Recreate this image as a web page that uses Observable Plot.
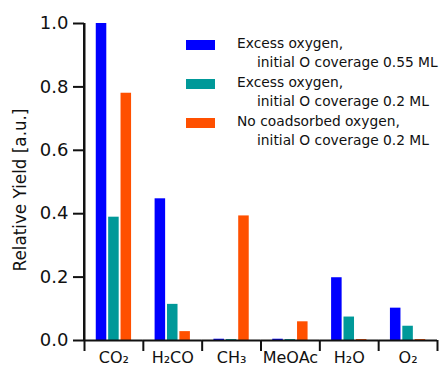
<!DOCTYPE html>
<html>
<head>
<meta charset="utf-8">
<script src="https://cdn.jsdelivr.net/npm/d3@7"></script>
<script src="https://cdn.jsdelivr.net/npm/@observablehq/plot@0.6"></script>
<style>
  html, body { margin: 0; padding: 0; background: #fff; }
  #wrap { position: relative; width: 439px; height: 366px; font-family: "DejaVu Sans", sans-serif; color: #111; }
  #ylabel { position: absolute; left: 20px; top: 190px; transform: translate(-50%, -50%) rotate(-90deg); white-space: nowrap; font-size: 16.8px; }
  .leg { position: absolute; left: 186px; width: 253px; font-size: 13.8px; line-height: 19px; }
  .sw { position: absolute; left: 0; width: 29px; height: 10px; }
  .l1 { position: absolute; left: 51px; white-space: nowrap; }
  .l2 { position: absolute; left: 71px; white-space: nowrap; }
</style>
</head>
<body>
<div id="wrap"><div id="ylabel">Relative Yield [a.u.]</div></div>
<script>
const categories = ["CO₂", "H₂CO", "CH₃", "MeOAc", "H₂O", "O₂"];
const seriesNames = [
  ["Excess oxygen,", "initial O coverage 0.55 ML"],
  ["Excess oxygen,", "initial O coverage 0.2 ML"],
  ["No coadsorbed oxygen,", "initial O coverage 0.2 ML"]
];
const excessO055 = [1.0, 0.447, 0.004, 0.004, 0.198, 0.102];
const excessO02 = [0.389, 0.114, 0.003, 0.003, 0.074, 0.045];
const noCoadsorbed = [0.78, 0.028, 0.393, 0.059, 0.003, 0.003];
const colors = ["#0000ff", "#009999", "#ff5000"];
const yTicks = [0, 0.2, 0.4, 0.6, 0.8, 1.0];

const seriesKeys = seriesNames.map(s => s.join(" "));
const seriesValues = [excessO055, excessO02, noCoadsorbed];
const data = [];
categories.forEach((c, i) => {
  seriesKeys.forEach((s, j) => data.push({cat: c, series: s, value: seriesValues[j][i]}));
});

const W = 439, H = 366, ML = 84, MR = 2, MT = 23, MB = 26;
const facetW = (W - ML - MR) / categories.length;

function build(extra) {
  return Plot.plot({
    width: W, height: H,
    marginLeft: ML, marginRight: MR, marginTop: MT, marginBottom: MB,
    style: {fontFamily: "DejaVu Sans, sans-serif", color: "#111", background: "transparent"},
    fx: {domain: categories, padding: 0, label: null, round: false},
    x: {domain: seriesKeys, axis: null, paddingInner: 0.15, paddingOuter: 0.95, round: false},
    y: {domain: [0, 1], label: null},
    color: {domain: seriesKeys, range: colors},
    marks: [
      Plot.barY(data, {fx: "cat", x: "series", y: "value", fill: "series"}),
      Plot.ruleY([0], {stroke: "#111", strokeWidth: 2}),
      Plot.gridFx({ticks: [categories[0]], dx: -facetW / 2, stroke: "#111", strokeOpacity: 1, strokeWidth: 2}),
      Plot.axisY({ticks: yTicks, tickFormat: d3.format(".1f"), tickSize: 11, tickPadding: 5, label: null, strokeWidth: 2, stroke: "#111", fontSize: 18}),
      Plot.axisFx({anchor: "bottom", tickSize: 0, tickPadding: 11, label: null, fontSize: 16}),
      Plot.axisFx({anchor: "bottom", tickSize: 11, tickFormat: () => "", label: null, strokeWidth: 2, stroke: "#111", dx: -facetW / 2}),
      Plot.axisFx({anchor: "bottom", ticks: [categories[categories.length - 1]], tickSize: 11, tickFormat: () => "", label: null, strokeWidth: 2, stroke: "#111", dx: facetW / 2}),
      ...extra
    ]
  });
}

let chart = build([]);
const xs = chart.scale("x");
const lead = xs.apply(seriesKeys[0]) - xs.range[0];
const bw = xs.bandwidth;
chart = build([
  Plot.barY([yTicks[yTicks.length - 1]], {
    fx: () => categories[0], x: () => seriesKeys[0], y: d => d, fill: "#111",
    insetLeft: -(lead + 1), insetRight: bw + lead - 1
  })
]);

const wrap = document.getElementById("wrap");
chart.style.position = "absolute";
chart.style.left = "0";
chart.style.top = "0";
wrap.insertBefore(chart, wrap.firstChild);

const legTops = [40, 79, 118];
seriesNames.forEach((lines, j) => {
  const item = document.createElement("div");
  item.className = "leg";
  item.style.top = legTops[j] + "px";
  item.innerHTML = `<div class="sw" style="background:${colors[j]}"></div>` +
    `<div class="l1" style="top:-6px">${lines[0]}</div>` +
    `<div class="l2" style="top:13px">${lines[1]}</div>`;
  wrap.appendChild(item);
});
</script>
</body>
</html>
